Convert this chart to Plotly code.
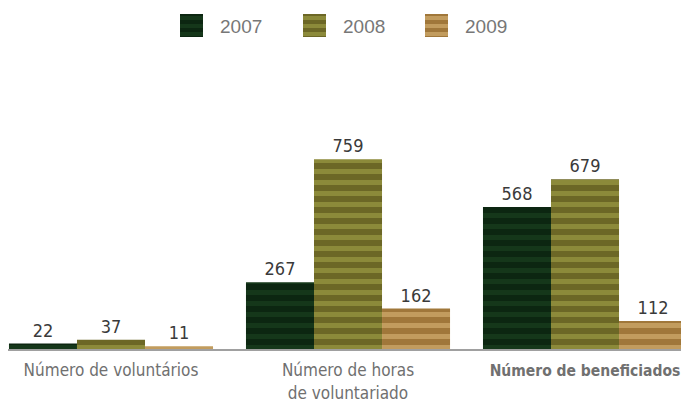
import plotly.graph_objects as go

categories = [
    "Número de voluntários",
    "Número de horas<br>de voluntariado",
    "<span style='font-size:15.5px'><b>Número de beneficiados</b></span>",
]
years = ["2007", "2008", "2009"]
values_2007 = [22, 267, 568]
values_2008 = [37, 759, 679]
values_2009 = [11, 162, 112]

series = [values_2007, values_2008, values_2009]
# (background, stripe) colours per year
fills = [("#0c2611", "#15371a"), ("#6c6726", "#8c8a3a"), ("#a0773a", "#c29c5e")]

NARROW = "Liberation Sans Narrow, DejaVu Sans Condensed, Roboto Condensed, Arial Narrow, sans-serif"

fig = go.Figure()
for year, vals, (bg, fg) in zip(years, series, fills):
    fig.add_trace(go.Bar(
        x=[0, 1, 2],
        y=vals,
        name=year,
        text=[str(v) for v in vals],
        textposition="outside",
        cliponaxis=False,
        textfont=dict(family=NARROW, size=18, color="#3a3a3a"),
        marker=dict(
            color=bg,
            line=dict(width=0),
            pattern=dict(shape="-", fgcolor=fg, bgcolor=bg, size=11, solidity=0.45, fillmode="replace"),
        ),
        showlegend=False,
    ))

# hand-drawn legend: striped swatch + label per year
legend_x = [180, 303, 425]
shapes = []
annotations = []
for year, x0, (bg, fg) in zip(years, legend_x, fills):
    shapes.append(dict(type="rect", xref="paper", yref="paper",
                       x0=(x0 - 8) / 673, x1=(x0 + 15) / 673,
                       y0=(349 - 37) / 249, y1=(349 - 14) / 249,
                       fillcolor=bg, line=dict(width=0), layer="above"))
    for k in range(3):
        top = 16 + k * 8
        shapes.append(dict(type="rect", xref="paper", yref="paper",
                           x0=(x0 - 8) / 673, x1=(x0 + 15) / 673,
                           y0=(349 - top - 4) / 249, y1=(349 - top) / 249,
                           fillcolor=fg, line=dict(width=0), layer="above"))
    annotations.append(dict(text=year, xref="paper", yref="paper",
                            x=(x0 + 30) / 673, y=(349 - 26) / 249,
                            xanchor="left", yanchor="middle", showarrow=False,
                            font=dict(family="Liberation Sans, Arial, sans-serif", size=19, color="#777777")))

fig.update_layout(
    width=681,
    height=400,
    margin=dict(l=8, r=0, t=100, b=51, autoexpand=False),
    paper_bgcolor="white",
    plot_bgcolor="white",
    barmode="group",
    bargap=0.139,
    bargroupgap=0,
    showlegend=False,
    shapes=shapes,
    annotations=annotations,
    font=dict(family=NARROW),
)

fig.update_xaxes(
    range=[-0.4346, 2.405],
    tickvals=[0, 1, 2],
    ticktext=categories,
    showline=True,
    linecolor="#a0a0a0",
    linewidth=2,
    ticks="",
    ticklabelstandoff=5,
    showgrid=False,
    zeroline=False,
    automargin=False,
    ticklabeloverflow="allow",
    tickfont=dict(family=NARROW, size=17, color="#707070"),
)
fig.update_yaxes(
    range=[0, 996],
    visible=False,
    showgrid=False,
    zeroline=False,
    automargin=False,
)

# drop the default page margin so the chart sits flush in the window
fig.write_html(
    "out.html",
    config={"displayModeBar": False},
    post_script="document.body.style.margin='0';",
)
